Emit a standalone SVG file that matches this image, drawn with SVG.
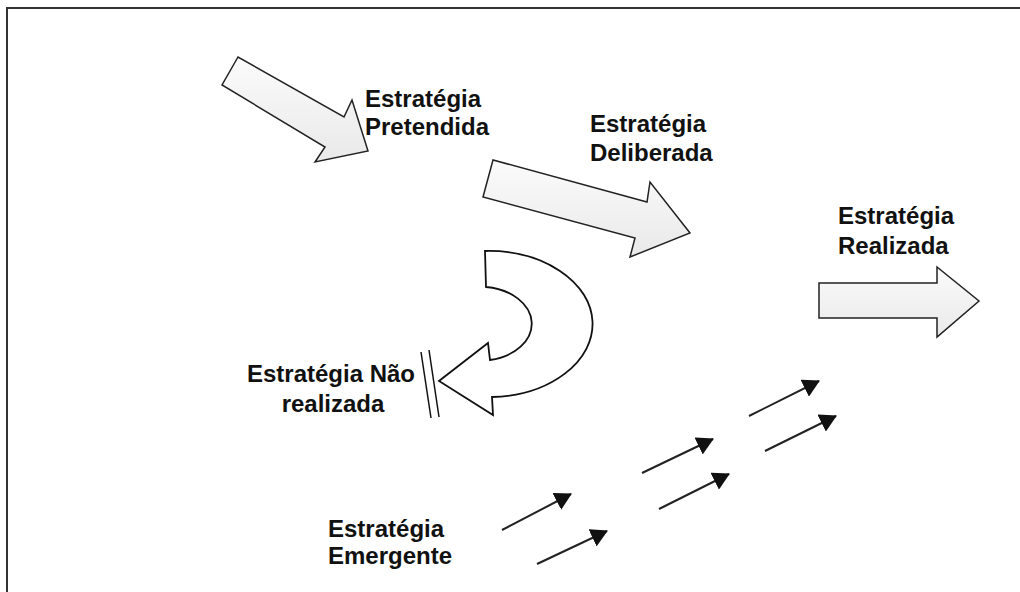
<svg xmlns="http://www.w3.org/2000/svg" width="1020" height="592" viewBox="0 0 1020 592">
<defs>
<linearGradient id="g1" x1="0" y1="0" x2="0" y2="1">
<stop offset="0" stop-color="#fbfbfb"/>
<stop offset="1" stop-color="#e9e9e9"/>
</linearGradient>
<marker id="ah" viewBox="0 0 17 19" refX="16" refY="9.5" markerWidth="17" markerHeight="19" markerUnits="userSpaceOnUse" orient="auto">
<path d="M0,0 L17,9.5 L0,19 Z" fill="#111"/>
</marker>
<style>
.lbl{font-family:"Liberation Sans",Arial,sans-serif;font-weight:bold;font-size:24px;fill:#111}
.big{fill:url(#g1);stroke:#222;stroke-width:1.5;stroke-linejoin:miter}
.curl{fill:#fff;stroke:#111;stroke-width:1.8}
.em{stroke:#222;stroke-width:2;fill:none;marker-end:url(#ah)}
.frame{stroke:#333;stroke-width:2;fill:none}
</style>
</defs>
<rect width="1020" height="592" fill="#fff"/>
<path class="frame" d="M7,593 L7,8 L1021,8"/>

<g id="pretendida">
<polygon class="big" points="238,57 222,85 325,147 315,162 368,151 352,100 344,117"/>
<text class="lbl" x="365" y="107">Estratégia</text>
<text class="lbl" x="365" y="135">Pretendida</text>
</g>

<g id="deliberada">
<polygon class="big" points="493,160 483,197 635,238 630,257 690,233 650,182 647,202"/>
<text class="lbl" x="590" y="132">Estratégia</text>
<text class="lbl" x="590" y="161">Deliberada</text>
</g>

<g id="realizada">
<polygon class="big" points="819,283 819,318 937,318 937,337 979,301 937,267 937,283"/>
<text class="lbl" x="838" y="224">Estratégia</text>
<text class="lbl" x="838" y="254">Realizada</text>
</g>

<g id="nao-realizada">
<path class="curl" d="M485,251 A104,73 0 0 1 492,397 L493,415 L439,381 L488,343 L490,360 A52,37 0 0 0 486,287 Z"/>
<line x1="421" y1="352" x2="431" y2="418" stroke="#111" stroke-width="1.5"/>
<line x1="429" y1="350" x2="439" y2="417" stroke="#111" stroke-width="1.5"/>
<text class="lbl" x="331" y="382" text-anchor="middle">Estratégia Não</text>
<text class="lbl" x="333" y="412" text-anchor="middle">realizada</text>
</g>

<g id="emergente">
<text class="lbl" x="328" y="537">Estratégia</text>
<text class="lbl" x="328" y="564">Emergente</text>
</g>

<g id="connectors">
<line class="em" x1="502" y1="530" x2="571" y2="494"/>
<line class="em" x1="537" y1="564" x2="607" y2="531"/>
<line class="em" x1="642" y1="473" x2="713" y2="439"/>
<line class="em" x1="659" y1="509" x2="729" y2="474"/>
<line class="em" x1="749" y1="416" x2="819" y2="381"/>
<line class="em" x1="765" y1="451" x2="836" y2="416"/>
</g>
</svg>
